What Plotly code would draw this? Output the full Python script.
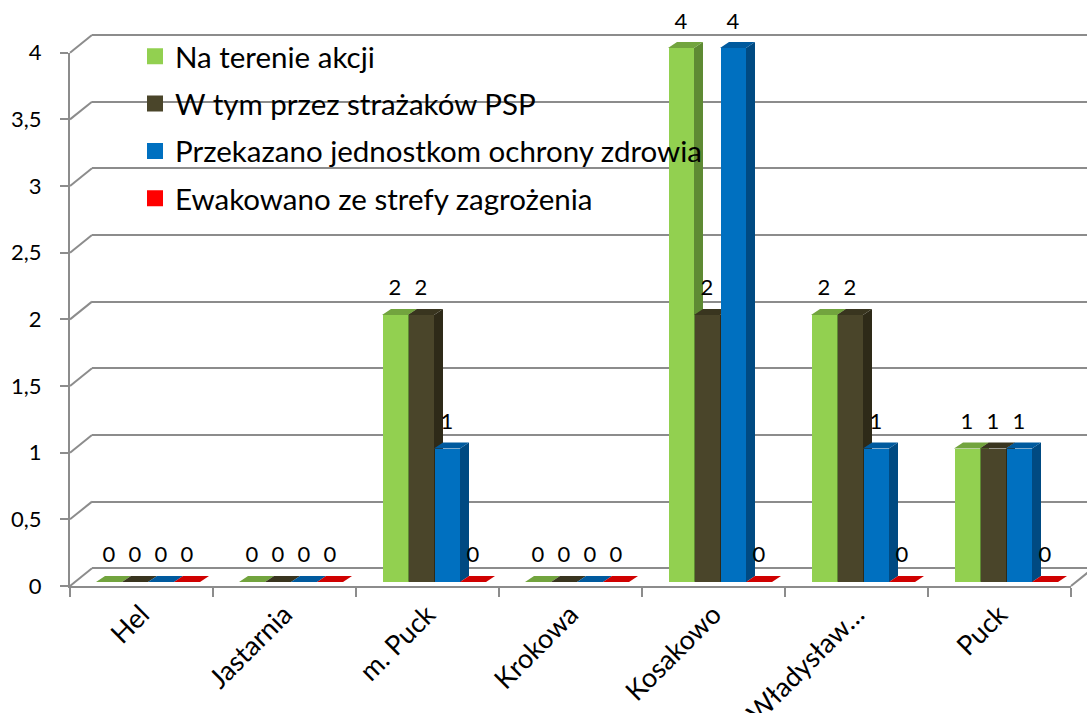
import plotly.graph_objects as go

# ---------------- data ----------------
categories = ["Hel", "Jastarnia", "m. Puck", "Krokowa", "Kosakowo", "Władysław…", "Puck"]
series_names = ["Na terenie akcji", "W tym przez strażaków PSP",
                "Przekazano jednostkom ochrony zdrowia", "Ewakowano ze strefy zagrożenia"]
na_terenie = [0, 0, 2, 0, 4, 2, 1]
w_tym_psp = [0, 0, 2, 0, 2, 2, 1]
przekazano = [0, 0, 1, 0, 4, 1, 1]
ewakowano = [0, 0, 0, 0, 0, 0, 0]
y_ticks = [0, 0.5, 1, 1.5, 2, 2.5, 3, 3.5, 4]

# ---------------- style ----------------
W, H = 1087, 713
FONT = "Lato"
front_cols = ["#92D050", "#4A452A", "#0070C0", "#FF0000"]
top_cols = ["#72A43E", "#39351F", "#005A9E", "#D00000"]
side_cols = ["#5E8A33", "#2E2A18", "#004A82", "#A80000"]
GRID = "#8C8C8C"

def fx(p):
    return p / W

def fy(p):
    return 1 - p / H

# front frame geometry (pixels)
FX0, FX1, FY0, FY4 = 70, 1071, 586, 52.7
# back wall
BX0, BY0, BY4 = 92, 568.3, 35
# bars
BARX0, BARX1, BARY0, BARY4 = 76.5, 1077.5, 582, 48
ppu = (BARY0 - BARY4) / 4.0
cat_px = (BARX1 - BARX0) / len(categories)
bar_w = 26 / cat_px
dx = 9 / cat_px
dy = 6 / ppu
lab_off = 25 / ppu
EPS = 0.02
bppu = (BY0 - BY4) / 4.0
TOPV = 4.3  # extra headroom so 3D tops and labels are not clipped

series = [na_terenie, w_tym_psp, przekazano, ewakowano]
n = len(series)

fig = go.Figure()

fig.add_trace(go.Scatter(x=categories, y=[0] * len(categories), mode="markers",
                         marker=dict(opacity=0), showlegend=False, hoverinfo="skip",
                         xaxis="x", yaxis="y"))
fig.add_trace(go.Scatter(x=[0], y=[0], mode="markers", marker=dict(opacity=0),
                         showlegend=False, hoverinfo="skip", xaxis="x2", yaxis="y2"))

for s, vals in enumerate(series):
    xa = "x%d" % (3 + s)
    ya = "y%d" % (3 + s)
    centers = [i + (s - (n - 1) / 2) * bar_w for i in range(len(vals))]
    fig.add_trace(go.Bar(x=centers, y=vals, width=bar_w, marker=dict(color=front_cols[s], line=dict(width=0)),
                         showlegend=False, hoverinfo="skip", xaxis=xa, yaxis=ya))
    sx, sy = [], []
    tx, ty = [], []
    for c, v in zip(centers, vals):
        r = c + bar_w / 2
        l = c - bar_w / 2
        if v > 0:
            sx += [r, r + dx, r + dx, r, r, None]
            sy += [0, dy, v + dy, v, 0, None]
        tx += [l, r, r + dx, l + dx, l, None]
        ty += [v, v, v + dy, v + dy, v, None]
    fig.add_trace(go.Scatter(x=sx, y=sy, mode="lines", fill="toself", fillcolor=side_cols[s],
                             line=dict(width=0), showlegend=False, hoverinfo="skip", xaxis=xa, yaxis=ya))
    fig.add_trace(go.Scatter(x=tx, y=ty, mode="lines", fill="toself", fillcolor=top_cols[s],
                             line=dict(width=0), showlegend=False, hoverinfo="skip", xaxis=xa, yaxis=ya))
    fig.add_trace(go.Scatter(x=centers, y=[v + lab_off for v in vals], mode="text",
                             text=[str(v) for v in vals], textposition="middle center",
                             textfont=dict(family=FONT, size=22, color="black"),
                             showlegend=False, hoverinfo="skip", cliponaxis=False, xaxis=xa, yaxis=ya))
    fig.add_trace(go.Scatter(x=[None], y=[None], mode="markers", name=series_names[s],
                             marker=dict(symbol="square", size=17, color=front_cols[s]),
                             legendgroup="g%d" % s, xaxis=xa, yaxis=ya))

shapes = []
for v in y_ticks:
    yf = FY0 - v * (FY0 - FY4) / 4
    yb = BY0 - v * (BY0 - BY4) / 4
    shapes.append(dict(type="line", xref="paper", yref="paper", x0=fx(FX0), y0=fy(yf), x1=fx(BX0), y1=fy(yb),
                       line=dict(color=GRID, width=2)))
shapes.append(dict(type="line", xref="paper", yref="paper", x0=fx(FX1), y0=fy(FY0),
                   x1=fx(FX1 + (BX0 - FX0)), y1=fy(BY0), line=dict(color=GRID, width=2)))

hidden = dict(visible=False, range=[-0.5, len(categories) - 0.5], fixedrange=True)
hidden_y = dict(visible=False, range=[0, TOPV], fixedrange=True)

layout = dict(
    width=W, height=H, autosize=False,
    margin=dict(l=0, r=0, t=0, b=0, pad=0, autoexpand=False),
    paper_bgcolor="white", plot_bgcolor="rgba(0,0,0,0)",
    separators=", ",
    font=dict(family=FONT, color="black"),
    bargap=0, barmode="overlay",
    shapes=shapes,
    showlegend=True,
    legend=dict(x=fx(135), y=fy(30.5), xanchor="left", yanchor="top",
                bgcolor="rgba(0,0,0,0)", font=dict(family=FONT, size=29.5, color="black"),
                traceorder="grouped", tracegroupgap=6, itemsizing="trace"),
    xaxis=dict(type="category", categoryorder="array", categoryarray=categories,
               range=[-0.5, len(categories) - 0.5], domain=[fx(FX0), fx(FX1)], anchor="y",
               showline=True, linecolor=GRID, linewidth=2, ticks="outside", tickson="boundaries",
               ticklen=9, tickwidth=2, tickcolor=GRID, tickangle=-45, showgrid=False, zeroline=False,
               tickfont=dict(family=FONT, size=27, color="black"), fixedrange=True, automargin=False),
    yaxis=dict(range=[0, 4], domain=[fy(FY0), fy(FY4)], anchor="x", tickvals=y_ticks,
               showline=True, linecolor=GRID, linewidth=2, ticks="outside", ticklen=8, tickwidth=2,
               tickcolor=GRID, showgrid=False, zeroline=False, ticklabelstandoff=14,
               tickfont=dict(family=FONT, size=22, color="black"), fixedrange=True, automargin=False),
    xaxis2=dict(domain=[fx(BX0), 1], anchor="y2", visible=False, range=[0, 1], fixedrange=True),
    yaxis2=dict(domain=[fy(BY0 + EPS * bppu), fy(BY4 - EPS * bppu)], anchor="x2", range=[-EPS, 4 + EPS],
                tickvals=y_ticks, showgrid=True, gridcolor=GRID, gridwidth=2, showticklabels=False, ticks="",
                zeroline=False, showline=False, fixedrange=True),
)
for s in range(n):
    xk = "xaxis%d" % (3 + s)
    yk = "yaxis%d" % (3 + s)
    xd = dict(hidden, anchor="y%d" % (3 + s))
    yd = dict(hidden_y, anchor="x%d" % (3 + s))
    if s == 0:
        xd["domain"] = [fx(BARX0), fx(BARX1)]
        yd["domain"] = [fy(BARY0), fy(BARY0 - TOPV * ppu)]
    else:
        xd["overlaying"] = "x3"
        yd["overlaying"] = "y3"
    layout[xk] = xd
    layout[yk] = yd

fig.update_layout(**layout)
fig.write_html("out.html", config={"responsive": False, "displayModeBar": False},
               post_script="document.body.style.margin='0';document.body.style.overflow='hidden';")
